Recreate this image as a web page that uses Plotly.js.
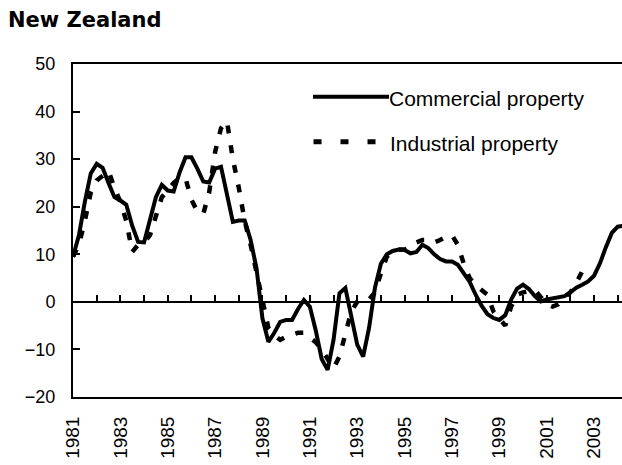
<!DOCTYPE html>
<html>
<head>
<meta charset="utf-8">
<script src="https://cdn.plot.ly/plotly-3.0.1.min.js"></script>
<style>html,body{margin:0;padding:0;background:#fff;}</style>
</head>
<body>
<div id="chart" style="width:622px;height:465px;"></div>
<script>
// Quarterly series, first observation 1981 Q1
var startYear = 1981;
var commercial = [
  9.5, 14, 21, 27,
  29, 28.2, 25, 22,
  21.3, 20.4, 16, 12.6,
  12.5, 17, 22, 24.6,
  23.4, 23.2, 27.2, 30.4,
  30.4, 28, 25.3, 25.1,
  28, 28.4, 23, 16.8,
  17.1, 17.1, 13, 7,
  -3.5, -8.4, -6.5, -4.2,
  -3.8, -3.8, -1.5, 0.4,
  -1.0, -6, -12, -14.3,
  -8, 1.8, 2.9, -3,
  -9, -11.5, -5.5, 3,
  8, 10, 10.7, 11,
  10.9, 10.2, 10.5, 12.0,
  11.3, 10.0, 9.0, 8.5,
  8.5, 7.8, 6.0, 4.2,
  1.5, -0.8, -2.6, -3.4,
  -3.8, -2.8, 0.5, 2.8,
  3.6, 2.7, 1.2, 0.1,
  0.5, 0.8, 1.0, 1.2,
  2.0, 3.0, 3.6, 4.3,
  5.5, 8.1, 11.5, 14.5,
  15.8, 16.0
];
var industrial = [
  9.5, 12, 17, 23,
  25.5, 26.5, 27.5, 24,
  21, 17, 10.5, 12,
  12.5, 14, 18, 22,
  23.5, 25, 26, 26,
  21.5, 19, 18.5, 23,
  31.5, 36.5, 38, 30,
  24, 17, 12, 6,
  0, -5.5, -7, -8,
  -7.3, -7, -6.5, -6.5,
  -7.5, -8.5, -10, -12,
  -14, -11.5, -7, -2,
  0, 0.5, 0.5, 2,
  6, 9.5, 10.5, 11,
  11, 11.5, 12.5, 13,
  13, 12.5, 13, 13.7,
  14, 12, 8, 5,
  3.5, 2.5, 1.5, -2,
  -3.5, -5, -1, 1.5,
  2, 2.3, 2.5, 1,
  -0.5, -1, -0.5, 1,
  2, 4, 6.4, 7
];
var tickYears = [1981, 1983, 1985, 1987, 1989, 1991, 1993, 1995, 1997, 1999, 2001, 2003];
var tickLabels = ["1981", "1983", "1985", "1987", "1989", "1991", "1993", "1995", "1997", "1999", "2001", "2003"];
var seriesNames = ["Commercial property", "Industrial property"];

function quarterAxis(n) {
  var out = [];
  for (var i = 0; i < n; i++) out.push(startYear + i / 4);
  return out;
}

var xRange = [1981, 2004.18];
var fontFam = "Liberation Sans, Arial, sans-serif";

var traces = [
  {
    x: quarterAxis(industrial.length), y: industrial, type: "scatter", mode: "lines",
    name: seriesNames[1], xaxis: "x2", yaxis: "y",
    line: {color: "#000", width: 4.5, dash: "8px,12px"}
  },
  {
    x: quarterAxis(commercial.length), y: commercial, type: "scatter", mode: "lines",
    name: seriesNames[0], xaxis: "x", yaxis: "y",
    line: {color: "#000", width: 4}
  }
];

// plot-area helpers for legend placement (paper fractions)
var L = 73, R = 622, T = 64, B = 397;
function px(x) { return (x - L) / (R - L); }
function py(y) { return (B - y) / (B - T); }

var layout = {
  width: 622, height: 465,
  margin: {l: L, r: 622 - R, t: T, b: 465 - B, pad: 0},
  paper_bgcolor: "#fff", plot_bgcolor: "#fff",
  showlegend: false,
  font: {family: fontFam, color: "#000"},
  title: {
    text: "<b>New Zealand</b>",
    font: {family: "DejaVu Sans, sans-serif", size: 21, color: "#000"},
    x: 8 / 622, xanchor: "left", xref: "container",
    y: 1 - 12 / 465, yanchor: "top", yref: "container"
  },
  xaxis: {
    range: xRange, showgrid: false, zeroline: false,
    showline: true, linecolor: "#000", linewidth: 2, mirror: true,
    ticks: "", tickmode: "array", tickvals: tickYears, ticktext: tickLabels,
    tickangle: -90, tickfont: {family: fontFam, size: 19, color: "#000"},
    ticklabelstandoff: 10
  },
  xaxis2: {
    range: xRange, overlaying: "x", anchor: "free", position: 2 / 7,
    showgrid: false, zeroline: false, showline: true, linecolor: "#000", linewidth: 2,
    ticks: "inside", ticklen: 6, tickwidth: 2, tickcolor: "#000",
    tickmode: "linear", tick0: 1981, dtick: 1, showticklabels: false,
    layer: "below traces"
  },
  yaxis: {
    range: [-20, 50], tickmode: "linear", tick0: -20, dtick: 10,
    showgrid: false, zeroline: false, showline: true, linecolor: "#000", linewidth: 2,
    ticks: "inside", ticklen: 7, tickwidth: 2, tickcolor: "#000",
    tickfont: {family: fontFam, size: 18, color: "#000"},
    ticklabelstandoff: 12
  },
  shapes: [
    {type: "line", xref: "paper", yref: "paper", x0: px(313), x1: px(389), y0: py(96.7), y1: py(96.7),
     line: {color: "#000", width: 4}},
    {type: "line", xref: "paper", yref: "paper", x0: px(313.5), x1: px(377), y0: py(141.7), y1: py(141.7),
     line: {color: "#000", width: 5, dash: "8px,19px"}}
  ],
  annotations: [
    {text: seriesNames[0], xref: "paper", yref: "paper", x: px(387), y: py(98), xanchor: "left", yanchor: "middle",
     showarrow: false, font: {family: fontFam, size: 21, color: "#000"}},
    {text: seriesNames[1], xref: "paper", yref: "paper", x: px(388), y: py(143), xanchor: "left", yanchor: "middle",
     showarrow: false, font: {family: fontFam, size: 21, color: "#000"}}
  ]
};

Plotly.newPlot("chart", traces, layout, {staticPlot: true, displayModeBar: false});
</script>
</body>
</html>
